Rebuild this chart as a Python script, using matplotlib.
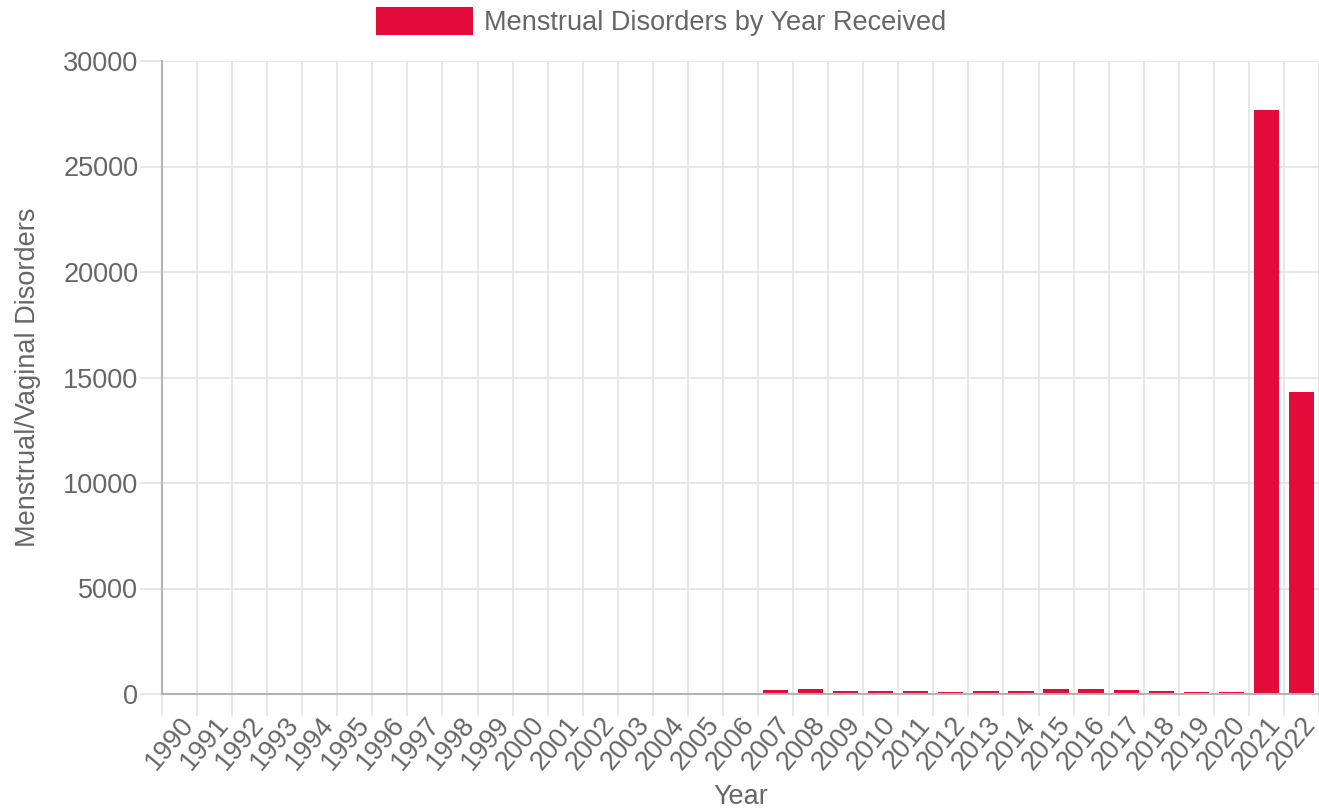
import matplotlib.pyplot as plt
from matplotlib.ticker import FixedLocator

years = [str(y) for y in range(1990, 2023)]
counts = [0, 3, 5, 15, 20, 12, 16, 18, 20, 16,
          50, 15, 18, 45, 20, 25, 60, 190, 235, 145,
          145, 130, 90, 135, 125, 235, 225, 175, 125, 100,
          80, 27700, 14300]

bar_color = '#e30b3a'
text_color = '#666666'
grid_color = '#e3e3e3'
axis_color = '#b3b3b3'

plt.rcParams['font.family'] = ['Liberation Sans', 'DejaVu Sans']

fig = plt.figure(figsize=(13.19, 8.09), dpi=100)
ax = fig.add_axes([162 / 1319, 1 - 694 / 809, 1 - 162 / 1319, (694 - 61) / 809])

x = list(range(len(years)))
ax.bar(x, counts, width=0.72, color=bar_color, label='Menstrual Disorders by Year Received', zorder=3)

ax.set_xlim(-0.5, len(years) - 0.5)
ax.set_ylim(0, 30000)
ax.set_yticks(range(0, 30001, 5000))

# category labels at centres, gridlines at category boundaries
ax.set_xticks(x)
ax.set_xticklabels(years, rotation=50, ha='right', va='top', rotation_mode='anchor')
ax.xaxis.set_minor_locator(FixedLocator([i - 0.5 for i in range(len(years) + 1)]))
ax.tick_params(axis='x', which='major', length=0, pad=13, labelsize=19.5, labelcolor=text_color)
ax.tick_params(axis='x', which='minor', length=16, width=1.2, color=grid_color)
ax.tick_params(axis='y', length=16, width=1.2, color=grid_color, pad=1, labelsize=19.5, labelcolor=text_color)
ax.grid(True, axis='x', which='minor', color=grid_color, lw=1.2, zorder=0)
ax.grid(True, axis='y', which='major', color=grid_color, lw=1.2, zorder=0)

for side in ['top', 'right']:
    ax.spines[side].set_visible(False)
ax.spines['left'].set_color(axis_color)
ax.spines['bottom'].set_color(axis_color)
ax.spines['left'].set_linewidth(1.5)
ax.spines['bottom'].set_linewidth(1.5)
ax.spines['left'].set_zorder(4)
ax.spines['bottom'].set_zorder(4)

ax.set_xlabel('Year', fontsize=19.5, color=text_color, labelpad=6)
ax.set_ylabel('Menstrual/Vaginal Disorders', fontsize=19.5, color=text_color, labelpad=16)

fig.legend(loc='upper center', bbox_to_anchor=(0.501, 1.0), frameon=False,
           fontsize=19.5, labelcolor=text_color, handlelength=3.6, handleheight=1.25,
           handletextpad=0.4, borderpad=0.15, borderaxespad=0.1)

plt.savefig('out.png', dpi=100)
